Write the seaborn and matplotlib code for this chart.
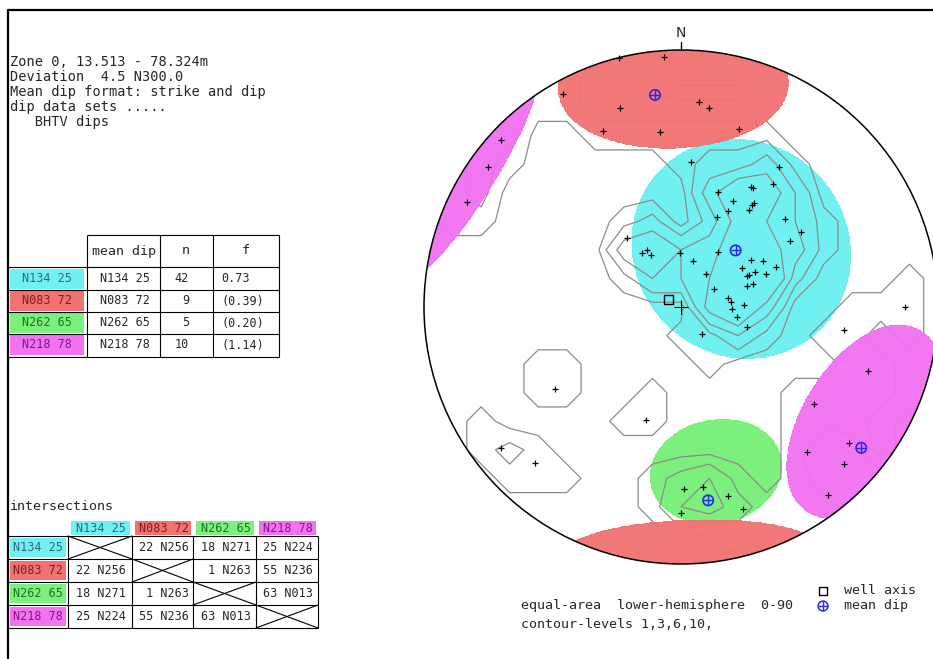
import numpy as np
import matplotlib
matplotlib.use("Agg")
import matplotlib.pyplot as plt
from matplotlib.patches import Circle, Rectangle
import seaborn as sns

# --- data ---
# dip sets: mean plane as strike / dip, count n and fit value f
STRIKE = [134, 83, 262, 218]
DIP = [25, 72, 65, 78]
N_POLES = [42, 9, 5, 10]
F_VALUE = [0.73, 0.39, 0.20, 1.14]
F_BRACKET = [False, True, True, True]

# intersections of the mean planes (plunge, trend)
INTER_PAIRS = [(0, 1), (0, 2), (0, 3), (1, 2), (1, 3), (2, 3)]
INTER_PLUNGE = [22, 18, 25, 1, 55, 63]
INTER_TREND = [256, 271, 224, 263, 236, 13]

# set cones (centre trend / plunge, half angle)
CONE_TREND = [46, 358, 168, 122]
CONE_PLUNGE = [62, 10, 34, 13]
CONE_RADIUS = [35, 28, 18.5, 26.5]

# BHTV dip poles (trend, plunge)
POLE_TREND = [346, 356, 331, 343, 5, 8, 336, 353, 18, 313, 306, 296, 4, 35, 37, 30, 31, 18, 26, 35,
              35, 26, 35, 22, 50, 58, 322, 59, 329, 324, 330, 359, 34, 15, 56, 61, 67, 57, 37, 65,
              65, 65, 69, 72, 72, 61, 79, 84, 88, 92, 100, 107, 142, 98, 90, 237, 232, 223, 197, 109,
              126, 129, 139, 134, 142, 179, 173, 166, 163, 180]
POLE_PLUNGE = [0, 3, 6, 20, 21, 23, 26, 32, 28, 5, 8, 8, 43, 34, 40, 45, 45, 51, 52, 49,
               50, 56, 52, 59, 46, 44, 62, 49, 69, 69, 71, 73, 69, 75, 63, 60, 57, 67, 77, 64,
               67, 66, 61, 68, 66, 78, 75, 74, 70, 74, 72, 68, 79, 36, 14, 41, 12, 18, 52, 24,
               36, 17, 26, 13, 8, 30, 30, 25, 19, 21]

WELL_DEVIATION = 4.5
WELL_AZIMUTH = 300.0
CONTOUR_LEVELS = [1, 3, 6, 10]

SET_COLORS = ['#70F0F0', '#F27272', '#7CF07C', '#F272F2']
SET_TEXT = ['#2f6a80', '#7a2020', '#207020', '#7a207a']
BLUE = '#2a2ae6'

sns.set_theme(style="white")
plt.rcParams['font.family'] = ['DejaVu Sans Mono', 'DejaVu Sans']


def to_vec(trend, plunge):
    t, p = np.radians(trend), np.radians(plunge)
    return np.stack([np.cos(p) * np.sin(t), np.cos(p) * np.cos(t), -np.sin(p)], axis=-1)


def project(trend, plunge):
    # equal-area (Schmidt), lower hemisphere, unit radius
    r = np.sqrt(2) * np.sin(np.radians(90 - np.asarray(plunge, float)) / 2)
    t = np.radians(trend)
    return r * np.sin(t), r * np.cos(t)


def net_to_vec(x, y, rmax=np.sqrt(2)):
    r = np.clip(np.hypot(x, y), 0, rmax)
    colat = 2 * np.arcsin(r / np.sqrt(2))
    az = np.arctan2(x, y)
    return np.stack([np.sin(colat) * np.sin(az), np.sin(colat) * np.cos(az), -np.cos(colat)], axis=-1)


W, H = 933, 659
fig = plt.figure(figsize=(W / 100, H / 100), dpi=100)
bg = fig.add_axes([0, 0, 1, 1])
bg.set_xlim(0, W)
bg.set_ylim(H, 0)
bg.axis('off')

# frame
bg.plot([8, 8, W], [H, 10, 10], color='black', lw=1.6)

# --- stereonet ---
CX, CY, R, L = 681, 307, 257, 1.2
ax = fig.add_axes([(CX - L * R) / W, (H - CY - L * R) / H, 2 * L * R / W, 2 * L * R / H])
ax.set_xlim(-L, L)
ax.set_ylim(-L, L)
ax.axis('off')

# cones, wrapped to the opposite side where they cross the primitive
g = np.linspace(-1.02, 1.02, 801)
GX, GY = np.meshgrid(g, g)
GV = net_to_vec(GX, GY)
for i in range(4):
    c = to_vec(CONE_TREND[i], CONE_PLUNGE[i])
    inside = (np.abs(GV @ c) >= np.cos(np.radians(CONE_RADIUS[i]))).astype(float)
    on_top = i in (1, 3)   # red and magenta cover the contours
    cf = ax.contourf(GX, GY, inside, levels=[0.5, 1.5], colors=[SET_COLORS[i]],
                     alpha=0.96 if on_top else 1.0)
    cf.set_zorder(3 if on_top else 1)
    cf.set_clip_path(Circle((0, 0), 1, transform=ax.transData))

# density contours: counting cone on a coarse grid, axial
k = np.arange(-12, 13) / 9
NX, NY = np.meshgrid(k, k)
NV = net_to_vec(NX, NY, rmax=1.0)
P = to_vec(POLE_TREND, POLE_PLUNGE)
counts = (np.abs(NV @ P.T) >= np.cos(np.radians(9.7))).sum(axis=-1)
density = counts * 2.0
cs = ax.contour(NX, NY, density, levels=CONTOUR_LEVELS, colors='#8c8c8c', linewidths=0.9)
cs.set_zorder(2)
cs.set_clip_path(Circle((0, 0), 1, transform=ax.transData))

# primitive, north tick, centre
ax.add_patch(Circle((0, 0), 1, fill=False, ec='black', lw=1.1, zorder=6, clip_on=False))
ax.plot([0, 0], [1.0, 1.031], color='black', lw=1, zorder=6, clip_on=False)
ax.text(0, 1.068, 'N', ha='center', va='center', fontsize=10, family='DejaVu Sans', zorder=6)
ax.scatter([0], [0], marker='+', s=110, color='black', linewidths=0.8, zorder=7)

# poles
px, py = project(POLE_TREND, POLE_PLUNGE)
sns.scatterplot(x=px, y=py, ax=ax, marker='+', s=14, color='black', linewidth=0.9, zorder=8, legend=False)

# mean dips (poles of the mean planes) and well axis
mx, my = project(np.array(STRIKE) - 90, 90 - np.array(DIP))
ax.scatter(mx, my, marker='o', s=56, facecolors='none', edgecolors=BLUE, linewidths=1.2, zorder=9)
ax.scatter(mx, my, marker='+', s=56, color=BLUE, linewidths=1.0, zorder=9)
wx, wy = project([WELL_AZIMUTH], [90 - WELL_DEVIATION])
ax.scatter(wx, wy, marker='s', s=40, facecolors='none', edgecolors='black', linewidths=1.0, zorder=9)

# --- header text ---
HEADER = ["Zone 0, 13.513 - 78.324m", "Deviation  4.5 N300.0", "Mean dip format: strike and dip",
          "dip data sets .....", "   BHTV dips"]
for y, line in zip([62, 77, 92, 107, 122], HEADER):
    bg.text(10, y, line, ha='left', va='center', fontsize=9.8)

# --- mean dip table ---
lk = dict(color='black', lw=0.8)
bg.hlines(235, 87, 279, **lk)
for y in [267, 290, 312, 334, 357]:
    bg.hlines(y, 8, 279, **lk)
for x in [87, 160, 213, 279]:
    bg.vlines(x, 235, 357, **lk)
bg.text(124, 251, 'mean dip', ha='center', va='center', fontsize=9.5)
bg.text(186, 251, 'n', ha='center', va='center', fontsize=9.5)
bg.text(246, 251, 'f', ha='center', va='center', fontsize=9.5)
labels = [f"N{s:03d} {d:2d}" for s, d in zip(STRIKE, DIP)]
for i, y in enumerate([279, 301, 323, 345]):
    bg.add_patch(Rectangle((10, y - 10), 74, 20, color=SET_COLORS[i], lw=0))
    bg.text(47, y, labels[i], ha='center', va='center', fontsize=8.5, color=SET_TEXT[i])
    bg.text(100, y, labels[i], ha='left', va='center', fontsize=8.5)
    bg.text(189, y, str(N_POLES[i]), ha='right', va='center', fontsize=8.5)
    f = f"{F_VALUE[i]:.2f}"
    bg.text(221, y, f"({f})" if F_BRACKET[i] else f, ha='left', va='center', fontsize=8.5)

# --- intersections table ---
bg.text(10, 506, 'intersections', ha='left', va='center', fontsize=9.6)
col_x = [68, 132, 193, 256, 318]
row_y = [536, 559, 582, 605, 628]
for j in range(4):
    bg.add_patch(Rectangle((col_x[j] + 3, 521), col_x[j + 1] - col_x[j] - 5, 14, color=SET_COLORS[j], lw=0))
    bg.text((col_x[j] + col_x[j + 1]) / 2 + 1, 528, labels[j], ha='center', va='center', fontsize=8.5,
            color=SET_TEXT[j])
    bg.add_patch(Rectangle((10, row_y[j] + 2), 56, row_y[j + 1] - row_y[j] - 4, color=SET_COLORS[j], lw=0))
    bg.text(38, (row_y[j] + row_y[j + 1]) / 2, labels[j], ha='center', va='center', fontsize=8.5,
            color=SET_TEXT[j])
    bg.plot([col_x[j], col_x[j + 1]], [row_y[j], row_y[j + 1]], **lk)
    bg.plot([col_x[j], col_x[j + 1]], [row_y[j + 1], row_y[j]], **lk)
for y in row_y:
    bg.hlines(y, 8, 318, **lk)
for x in col_x:
    bg.vlines(x, 536, 628, **lk)
for (a, b), pl, tr in zip(INTER_PAIRS, INTER_PLUNGE, INTER_TREND):
    txt = f"{pl:2d} N{tr:03d}"
    for r_, c_ in [(a, b), (b, a)]:
        bg.text((col_x[c_] + col_x[c_ + 1]) / 2 + 1, (row_y[r_] + row_y[r_ + 1]) / 2, txt,
                ha='center', va='center', fontsize=8.5)

# --- legend / notes ---
bg.scatter([823], [591], marker='s', s=36, facecolors='none', edgecolors='black', linewidths=1.0)
bg.scatter([823], [606], marker='o', s=50, facecolors='none', edgecolors=BLUE, linewidths=1.1)
bg.scatter([823], [606], marker='+', s=50, color=BLUE, linewidths=1.0)
bg.text(844, 591, 'well axis', ha='left', va='center', fontsize=9.6)
bg.text(844, 606, 'mean dip', ha='left', va='center', fontsize=9.6)
bg.text(521, 606, 'equal-area  lower-hemisphere  0-90', ha='left', va='center', fontsize=9.6)
bg.text(521, 625, 'contour-levels ' + ','.join(str(v) for v in CONTOUR_LEVELS) + ',',
        ha='left', va='center', fontsize=9.6)

fig.savefig('out.png', dpi=100)
